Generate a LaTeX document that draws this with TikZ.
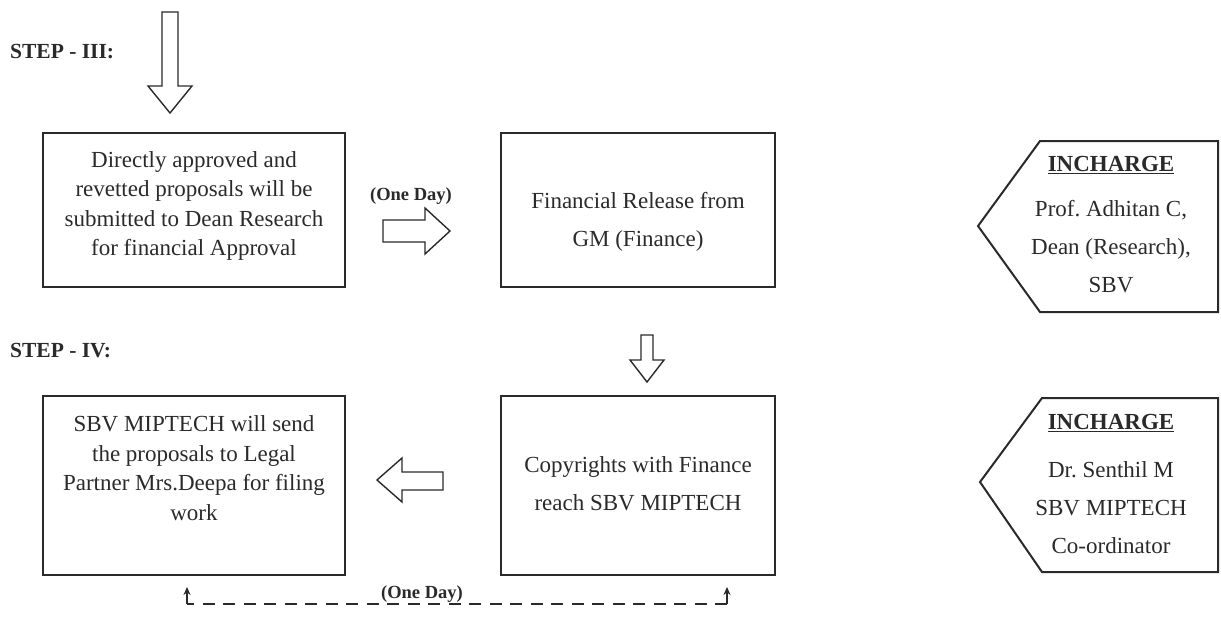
\documentclass[tikz,border=0pt]{standalone}
\usepackage{fontspec}
\setmainfont{Liberation Serif}
\usetikzlibrary{arrows.meta}
\definecolor{ink}{HTML}{2A2A2A}
\frenchspacing
\tikzset{
  boxframe/.style={draw=ink, line width=2pt, rectangle, inner sep=0pt},
  boxtext/.style={align=center, text=ink, font=\fontsize{23}{29.5}\selectfont, inner sep=0pt},
  widetext/.style={align=center, text=ink, font=\fontsize{23}{38}\selectfont, inner sep=0pt},
  steplabel/.style={anchor=west, text=ink, font=\fontsize{21.5}{24}\selectfont\bfseries, inner sep=0pt},
  daylabel/.style={text=ink, font=\fontsize{18.5}{22}\selectfont\bfseries, inner sep=0pt},
  inchead/.style={text=ink, font=\fontsize{23}{28}\selectfont\bfseries, inner sep=0pt},
  blockarrow/.style={draw=ink, line width=1.4pt, fill=white, line join=miter},
  inchargeshape/.style={draw=ink, line width=2pt, line join=miter},
  dashlink/.style={draw=ink, line width=1.6pt, dash pattern=on 12pt off 8.5pt},
  uptip/.style={draw=ink, line width=1.6pt, -{Stealth[length=8pt,width=7pt]}}
}
\begin{document}
\begin{tikzpicture}[x=1pt,y=-1pt]
\useasboundingbox (0,0) rectangle (1221,618);

% step labels
\node[steplabel] (s3) at (10,52) {STEP - III:};
\node[steplabel] (s4) at (10,351) {STEP - IV:};

% boxes
\node[boxframe, minimum width=302pt, minimum height=154pt] (b1) at (194,210) {};
\node[boxframe, minimum width=274pt, minimum height=154pt] (b2) at (638,210) {};
\node[boxframe, minimum width=302pt, minimum height=179pt] (b3) at (194,485.5) {};
\node[boxframe, minimum width=274pt, minimum height=179pt] (b4) at (638,485.5) {};

\node[boxtext] (t1) at (194,206) {Directly approved and\\revetted proposals will be\\submitted to Dean Research\\for financial Approval};
\node[widetext] (t2) at (638,222) {Financial Release from\\GM (Finance)};
\node[boxtext] (t3) at (194,468) {SBV MIPTECH will send\\the proposals to Legal\\Partner Mrs.Deepa for filing\\work};
\node[widetext] (t4) at (638,484) {Copyrights with Finance\\reach SBV MIPTECH};

% block arrows
\draw[blockarrow] (162,12) -- (178,12) -- (178,86) -- (192,86) -- (170,113) -- (148,86) -- (162,86) -- cycle;
\draw[blockarrow] (383,220) -- (425,220) -- (425,208) -- (450,231) -- (425,254) -- (425,242) -- (383,242) -- cycle;
\draw[blockarrow] (641,335) -- (653,335) -- (653,360) -- (664,360) -- (647,382) -- (630,360) -- (641,360) -- cycle;
\draw[blockarrow] (443,472) -- (402,472) -- (402,458) -- (377,480) -- (402,502) -- (402,490) -- (443,490) -- cycle;

\node[daylabel] (d1) at (411,196) {(One Day)};
\node[daylabel] (d2) at (422,594) {(One Day)};

% dashed return link
\coordinate (dl) at (187,604);
\coordinate (dr) at (727,604);
\coordinate (al) at (187,587);
\coordinate (ar) at (727,587);
\draw[dashlink] (dr) -- (dl);
\draw[uptip] (dl) -- (al);
\draw[uptip] (dr) -- (ar);

% incharge shapes
\draw[inchargeshape] (1040,141) -- (1218,141) -- (1218,312) -- (1040,312) -- (978,226) -- cycle;
\draw[inchargeshape] (1042,398) -- (1218,398) -- (1218,572) -- (1042,572) -- (980,482) -- cycle;

\node[inchead] (i1h) at (1111,165) {\underline{INCHARGE}};
\node[widetext] (i1t) at (1111,247) {Prof. Adhitan C,\\Dean (Research),\\SBV};
\node[inchead] (i2h) at (1111,423) {\underline{INCHARGE}};
\node[widetext] (i2t) at (1111,508) {Dr. Senthil M\\SBV MIPTECH\\Co-ordinator};
\end{tikzpicture}
\end{document}
